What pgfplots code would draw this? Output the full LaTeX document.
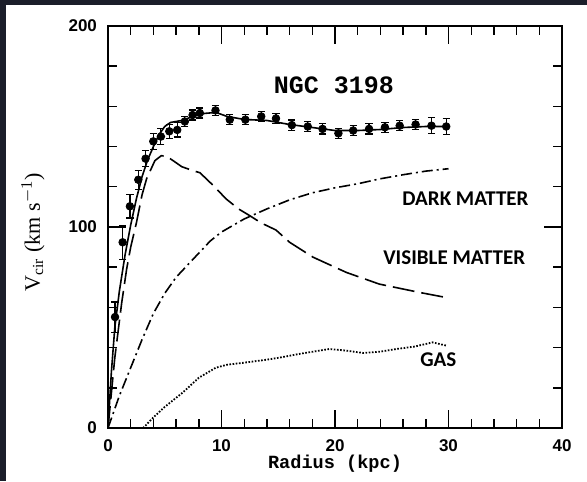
\documentclass[border=0pt]{standalone}
\usepackage{pgfplots}
\pgfplotsset{compat=1.18}
\usepackage{pgfplotstable}
\usepackage{fontspec}
\setmainfont{Liberation Serif}
\newfontfamily\monofont{Liberation Mono}
\newfontfamily\sansfont{Liberation Sans}
\newfontfamily\annfont{Carlito}
\definecolor{spacebg}{RGB}{27,30,42}

\pgfplotstableread{
r v err
0.62 55.2 7.5
1.29 92.4 8.5
1.93 110.3 5.8
2.67 123.5 4.8
3.31 134.0 4.0
3.99 142.6 4.0
4.66 145.0 4.0
5.40 147.6 3.5
6.10 148.3 3.5
6.77 152.5 2.5
7.45 155.7 2.5
8.09 156.7 2.5
9.47 158.0 2.5
10.73 153.4 2.5
12.10 153.4 2.5
13.50 155.0 2.5
14.80 154.0 2.5
16.20 150.7 2.5
17.60 150.0 2.5
18.90 148.8 2.5
20.30 146.6 2.5
21.60 148.0 2.5
23.00 148.8 2.5
24.40 149.6 2.5
25.70 150.4 2.5
27.10 151.0 2.5
28.50 150.4 4.0
29.80 150.0 4.0
}\obsdata

\pgfplotstableread{
r v
0.0 0
0.3 28
0.6 50
1.0 68
1.5 86
2.0 101
2.5 114
3.0 125
3.5 133.5
4.0 140
4.5 146
5.0 150
5.5 152
6.5 153
7.5 155
8.5 156.5
9.5 157
10.5 155
12.0 153.5
14.0 153
16.0 151
18.0 149.5
20.0 148
22.0 148
24.0 148.5
26.0 149.5
28.0 150
30.0 150
}\totalfit

\pgfplotstableread{
r v
0.0 0
0.6 35
1.2 62
1.64 79
2.0 90
2.5 102
3.0 116
3.4 124
4.13 133
4.7 135.5
5.2 135
5.74 133
6.5 130
7.5 128
8.1 127
9.3 120.5
10.4 114
11.5 109
12.5 105.6
13.5 102
14.8 98.5
16.0 92.4
18.06 85
21.0 77.4
23.9 71.6
27.4 67.5
30.0 64.7
}\visible

\pgfplotstableread{
r v
0 0
1 16
2 30
3 44
4 57
5 67
6 75
7 81
8 87
9 93
10 97.5
12 104
14 109
16 113.5
18 117
20 119.5
22 121.5
24 124
26 126
28 127.8
30 129
}\darkmatter

\pgfplotstableread{
r v
3.1 0
4.0 5.3
5.0 10.5
6.6 17.7
8.0 25
9.5 30
10.5 31.5
12.0 32.5
14.0 34
15.1 35
17.0 37
19.5 39.3
21.0 38.5
22.5 37.3
24.0 38
25.4 39.3
27.0 40.5
28.6 42.6
29.8 41
}\gas

\begin{document}
\begin{tikzpicture}
\useasboundingbox (0,0) rectangle (293.5pt,240.5pt);
\fill[spacebg] (0,0) rectangle (293.5pt,240.5pt);
\fill[white] (3pt,0) rectangle (293.5pt,238pt);
\begin{axis}[
  at={(54pt,26.5pt)}, anchor=south west,
  scale only axis, width=227pt, height=201pt,
  xmin=0, xmax=40, ymin=0, ymax=200,
  xtick={0,10,20,30,40}, ytick={0,100,200},
  minor x tick num=4, minor y tick num=4,
  tick align=inside,
  major tick length=9pt, minor tick length=4.5pt,
  axis line style={line width=1pt},
  every tick/.style={black, line width=0.7pt},
  /pgf/number format/assume math mode=true,
  ticklabel style={font=\sansfont\bfseries\fontsize{8.5}{10}\selectfont},
  xticklabel style={inner sep=1pt},
  xticklabel shift=4.5pt, yticklabel shift=2pt,
  xlabel={\monofont\bfseries\fontsize{9.3}{11}\selectfont Radius (kpc)},
  xlabel style={at={(rel axis cs:0.5,-0.09)}, anchor=center},
  ylabel={\fontsize{11}{13}\selectfont V$_{\mathrm{cir}}$ (km s$^{-1}$)},
  ylabel style={at={(rel axis cs:-0.165,0.4876)}, anchor=center, rotate=0},
  clip=false,
]
\addplot[black, line width=0.8pt] table[x=r,y=v] {\totalfit};
\addplot[black, line width=0.8pt, dash pattern=on 11pt off 3.5pt] table[x=r,y=v] {\visible};
\addplot[black, line width=0.8pt, dash pattern=on 5.5pt off 2pt on 1pt off 2pt] table[x=r,y=v] {\darkmatter};
\addplot[black, line width=0.9pt, dash pattern=on 0.8pt off 0.8pt] table[x=r,y=v] {\gas};
\addplot[black, only marks, mark=*, mark size=1.9pt,
  error bars/.cd, y dir=both, y explicit,
  error bar style={line width=0.6pt},
  error mark options={rotate=90, mark size=1.8pt, line width=0.6pt}]
  table[x=r, y=v, y error=err] {\obsdata};
\node[font=\monofont\bfseries\fontsize{12.5}{14}\selectfont] at (axis cs:19.9,170.3) {NGC 3198};
\node[font=\annfont\bfseries\fontsize{10.5}{12}\selectfont] at (axis cs:31.5,114.3) {DARK MATTER};
\node[font=\annfont\bfseries\fontsize{10.5}{12}\selectfont] at (axis cs:30.5,84.8) {VISIBLE MATTER};
\node[font=\annfont\bfseries\fontsize{10.5}{12}\selectfont] at (axis cs:29.1,33.8) {GAS};
\end{axis}
\end{tikzpicture}
\end{document}
